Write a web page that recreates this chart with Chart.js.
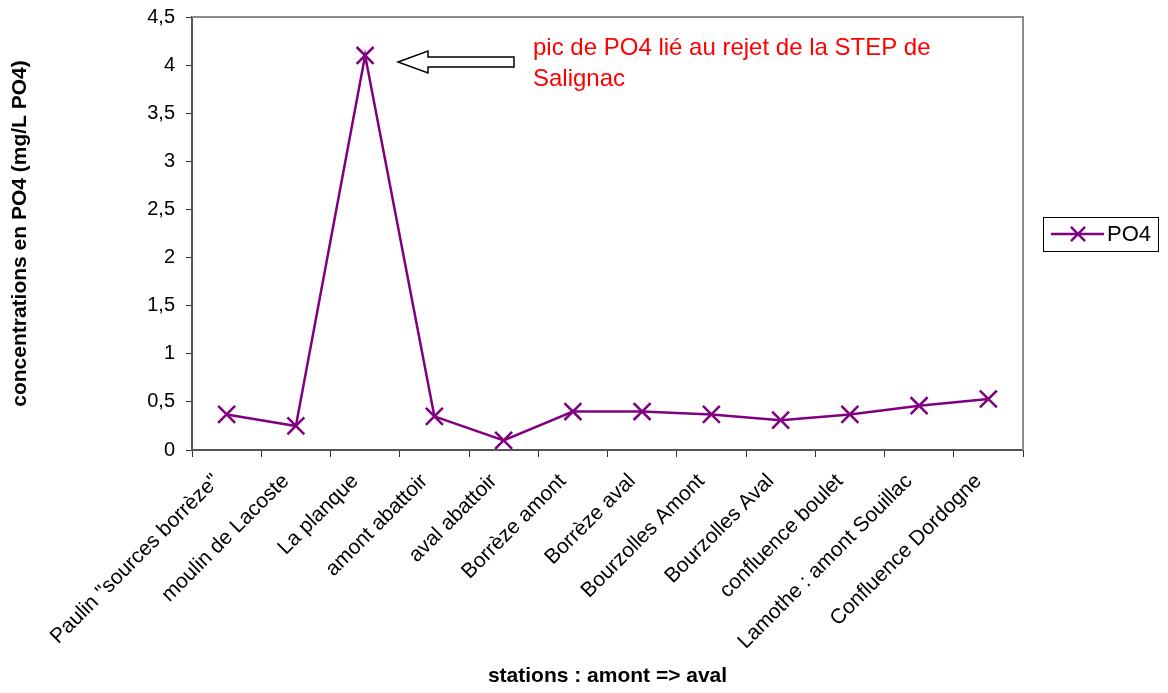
<!DOCTYPE html>
<html>
<head>
<meta charset="utf-8">
<script src="https://cdn.jsdelivr.net/npm/chart.js@4"></script>
<style>
  html, body { margin: 0; padding: 0; background: #fff; }
  #wrap { width: 1168px; height: 693px; }
</style>
</head>
<body>
<div id="wrap"><canvas id="chart"></canvas></div>
<script>
// stations, from upstream to downstream
const stations = [
  'Paulin "sources borrèze"',
  "moulin de Lacoste",
  "La planque",
  "amont abattoir",
  "aval abattoir",
  "Borrèze amont",
  "Borrèze aval",
  "Bourzolles Amont",
  "Bourzolles Aval",
  "confluence boulet",
  "Lamothe : amont Souillac",
  "Confluence Dordogne",
];
const po4 = [0.37, 0.25, 4.1, 0.35, 0.1, 0.4, 0.4, 0.37, 0.31, 0.37, 0.46, 0.53];
const noteLines = ["pic de PO4 lié au rejet de la STEP de", "Salignac"];

const PURPLE = "#800080";
const FONT = "'Liberation Sans', Arial, sans-serif";

// frame top/right + legend box + arrow note
const extras = {
  id: "extras",
  afterDraw(chart) {
    const ctx = chart.ctx;
    const a = chart.chartArea;
    ctx.save();

    // gray frame on top and right
    ctx.strokeStyle = "#8c8c8c";
    ctx.lineWidth = 2;
    ctx.beginPath();
    ctx.moveTo(a.left, a.top);
    ctx.lineTo(a.right, a.top);
    ctx.lineTo(a.right, a.bottom);
    ctx.stroke();

    // legend
    const ds = chart.data.datasets[0];
    ctx.strokeStyle = "#000";
    ctx.lineWidth = 1;
    ctx.strokeRect(1043.5, 217.5, 115, 34);
    ctx.strokeStyle = ds.borderColor;
    ctx.lineWidth = 2.5;
    ctx.beginPath();
    ctx.moveTo(1051, 234);
    ctx.lineTo(1104, 234);
    ctx.stroke();
    Chart.helpers.drawPoint(ctx, { pointStyle: "crossRot", radius: 10, borderWidth: 2.5 }, 1078, 234);
    ctx.fillStyle = "#000";
    ctx.font = "22px " + FONT;
    ctx.textBaseline = "middle";
    ctx.textAlign = "left";
    ctx.fillText(ds.label, 1107, 235);

    // arrow pointing at the peak
    ctx.strokeStyle = "#000";
    ctx.fillStyle = "#fff";
    ctx.lineWidth = 1.5;
    ctx.beginPath();
    ctx.moveTo(398, 62);
    ctx.lineTo(428, 51);
    ctx.lineTo(428, 57);
    ctx.lineTo(514, 57);
    ctx.lineTo(514, 67);
    ctx.lineTo(428, 67);
    ctx.lineTo(428, 73);
    ctx.closePath();
    ctx.fill();
    ctx.stroke();

    ctx.fillStyle = "#ff0000";
    ctx.font = "24px " + FONT;
    ctx.fillText(noteLines[0], 533, 48);
    ctx.fillText(noteLines[1], 533, 79);
    ctx.restore();
  },
};

new Chart(document.getElementById("chart"), {
  type: "line",
  data: {
    labels: stations,
    datasets: [
      {
        label: "PO4",
        data: po4,
        borderColor: PURPLE,
        backgroundColor: PURPLE,
        borderWidth: 2.5,
        pointStyle: "crossRot",
        pointRadius: 12,
        pointBorderWidth: 2.5,
        pointBorderColor: PURPLE,
        tension: 0,
      },
    ],
  },
  options: {
    responsive: true,
    maintainAspectRatio: false,
    animation: false,
    layout: { padding: { top: 17, right: 145, left: 0, bottom: 0 } },
    plugins: {
      legend: { display: false },
      tooltip: { enabled: false },
    },
    scales: {
      x: {
        offset: true,
        grid: { drawOnChartArea: false, drawTicks: true, tickLength: 7, color: "#333", offset: true },
        border: { color: "#555", width: 2 },
        ticks: {
          color: "#000",
          font: { family: FONT, size: 21 },
          maxRotation: 45,
          minRotation: 45,
          autoSkip: false,
          padding: 12,
          labelOffset: -10,
        },
        title: {
          display: true,
          text: "stations : amont => aval",
          color: "#000",
          font: { family: FONT, size: 21, weight: "bold" },
          padding: { top: 0, bottom: 4 },
        },
        afterFit(scale) {
          scale.height = 243;
          scale.paddingLeft = 0;
          scale.paddingRight = 0;
        },
      },
      y: {
        min: 0,
        max: 4.5,
        grid: { drawOnChartArea: false, drawTicks: true, tickLength: 6, color: "#333" },
        border: { color: "#555", width: 2 },
        ticks: {
          stepSize: 0.5,
          color: "#000",
          padding: 11,
          font: { family: FONT, size: 20 },
          callback: (v) => String(v).replace(".", ","),
        },
        title: {
          display: true,
          text: "concentrations en PO4 (mg/L PO4)",
          color: "#000",
          font: { family: FONT, size: 21, weight: "bold" },
          padding: { top: 8, bottom: 0 },
        },
        afterFit(scale) {
          scale.width = 192;
          scale.paddingTop = 0;
          scale.paddingBottom = 0;
        },
      },
    },
  },
  plugins: [extras],
});
</script>
</body>
</html>
